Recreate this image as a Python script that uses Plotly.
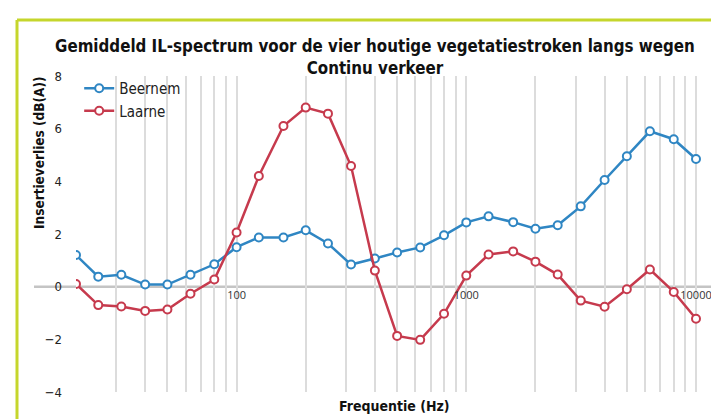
import plotly.graph_objects as go

# Tertsbanden (Hz)
freqs = [20, 25, 31.5, 40, 50, 63, 80, 100, 125, 160, 200, 250, 315, 400,
         500, 630, 800, 1000, 1250, 1600, 2000, 2500, 3150, 4000, 5000,
         6300, 8000, 10000]

beernem = [1.2, 0.38, 0.45, 0.08, 0.08, 0.45, 0.85, 1.5, 1.87, 1.87, 2.14,
           1.64, 0.84, 1.07, 1.3, 1.49, 1.95, 2.44, 2.67, 2.45, 2.2, 2.33,
           3.05, 4.05, 4.95, 5.9, 5.6, 4.85]

laarne = [0.1, -0.7, -0.75, -0.92, -0.87, -0.27, 0.27, 2.06, 4.2, 6.1, 6.8,
          6.57, 4.58, 0.61, -1.87, -2.02, -1.03, 0.42, 1.22, 1.34, 0.95, 0.46,
          -0.53, -0.76, -0.1, 0.65, -0.2, -1.22]

grid_vals = [20, 30, 40, 50, 60, 70, 80, 90, 100, 200, 300, 400, 500, 600,
             700, 800, 900, 1000, 2000, 3000, 4000, 5000, 6000, 7000, 8000,
             9000, 10000]
grid_text = ["100" if v == 100 else "1000" if v == 1000 else
             "10000" if v == 10000 else "" for v in grid_vals]

y_ticks = [-4, -2, 0, 2, 4, 6, 8]

BLUE = "#2f86c3"
RED = "#c63a4d"
GREEN = "#c5d62c"
FONT = "DejaVu Sans Condensed, DejaVu Sans, sans-serif"

W, H = 719, 419
L, R, T, B = 68, 14, 68, 35
PW, PH = W - L - R, H - T - B


def px(x):
    return (x - L) / PW


def py(y):
    return (H - B - y) / PH


fig = go.Figure()
for name, vals, col in [("Beernem", beernem, BLUE), ("Laarne", laarne, RED)]:
    fig.add_trace(go.Scatter(
        x=freqs, y=vals, name=name, mode="lines+markers",
        line=dict(color=col, width=2.5),
        marker=dict(symbol="circle", size=8, color="white",
                    line=dict(color=col, width=2)),
    ))

fig.update_layout(
    width=W, height=H,
    margin=dict(l=L, r=R, t=T, b=B),
    paper_bgcolor="white", plot_bgcolor="white",
    font=dict(family=FONT, color="#222", size=13),
    showlegend=True,
    legend=dict(x=0.005, y=py(64), xanchor="left", yanchor="top",
                bgcolor="rgba(255,255,255,0)", font=dict(size=15),
                itemwidth=30),
    xaxis=dict(
        type="log", range=[1.30103, 4.074],
        tickvals=grid_vals, ticktext=grid_text, ticks="",
        showgrid=True, gridcolor="#dcdcdc", gridwidth=2,
        zeroline=False, showline=False,
        anchor="free", position=1 / 3,
        tickfont=dict(family="Open Sans, sans-serif", size=11, color="#333"),
    ),
    yaxis=dict(
        range=[-4, 8], tickvals=y_ticks, showgrid=False,
        zeroline=False, showline=False, ticks="",
        ticklabelstandoff=13,
        tickfont=dict(size=13, color="#222"),
    ),
    shapes=[
        dict(type="line", xref="paper", yref="y", x0=px(26), x1=1,
             y0=0, y1=0, line=dict(color="#c4c4c4", width=2.5), layer="below"),
        dict(type="line", xref="paper", yref="paper", x0=px(9), x1=px(W + 5),
             y0=py(12), y1=py(12), line=dict(color=GREEN, width=3)),
        dict(type="line", xref="paper", yref="paper", x0=px(9), x1=px(9),
             y0=py(12), y1=py(H + 5), line=dict(color=GREEN, width=3)),
    ],
    annotations=[
        dict(text="<b>Gemiddeld IL-spectrum voor de vier houtige vegetatiestroken langs wegen</b>"
                  "<br><b>Continu verkeer</b>",
             xref="paper", yref="paper", x=px(367), y=py(49),
             xanchor="center", yanchor="middle", showarrow=False,
             font=dict(size=16.8, color="#111")),
        dict(text="<b>Insertieverlies (dB(A))</b>", textangle=-90,
             xref="paper", yref="paper", x=px(31), y=py(145),
             xanchor="center", yanchor="middle", showarrow=False,
             font=dict(size=13.5, color="#111")),
        dict(text="<b>Frequentie (Hz)</b>",
             xref="paper", yref="paper", x=px(387), y=py(398),
             xanchor="center", yanchor="middle", showarrow=False,
             font=dict(size=14, color="#111")),
    ],
)

fig.write_html("out.html")
